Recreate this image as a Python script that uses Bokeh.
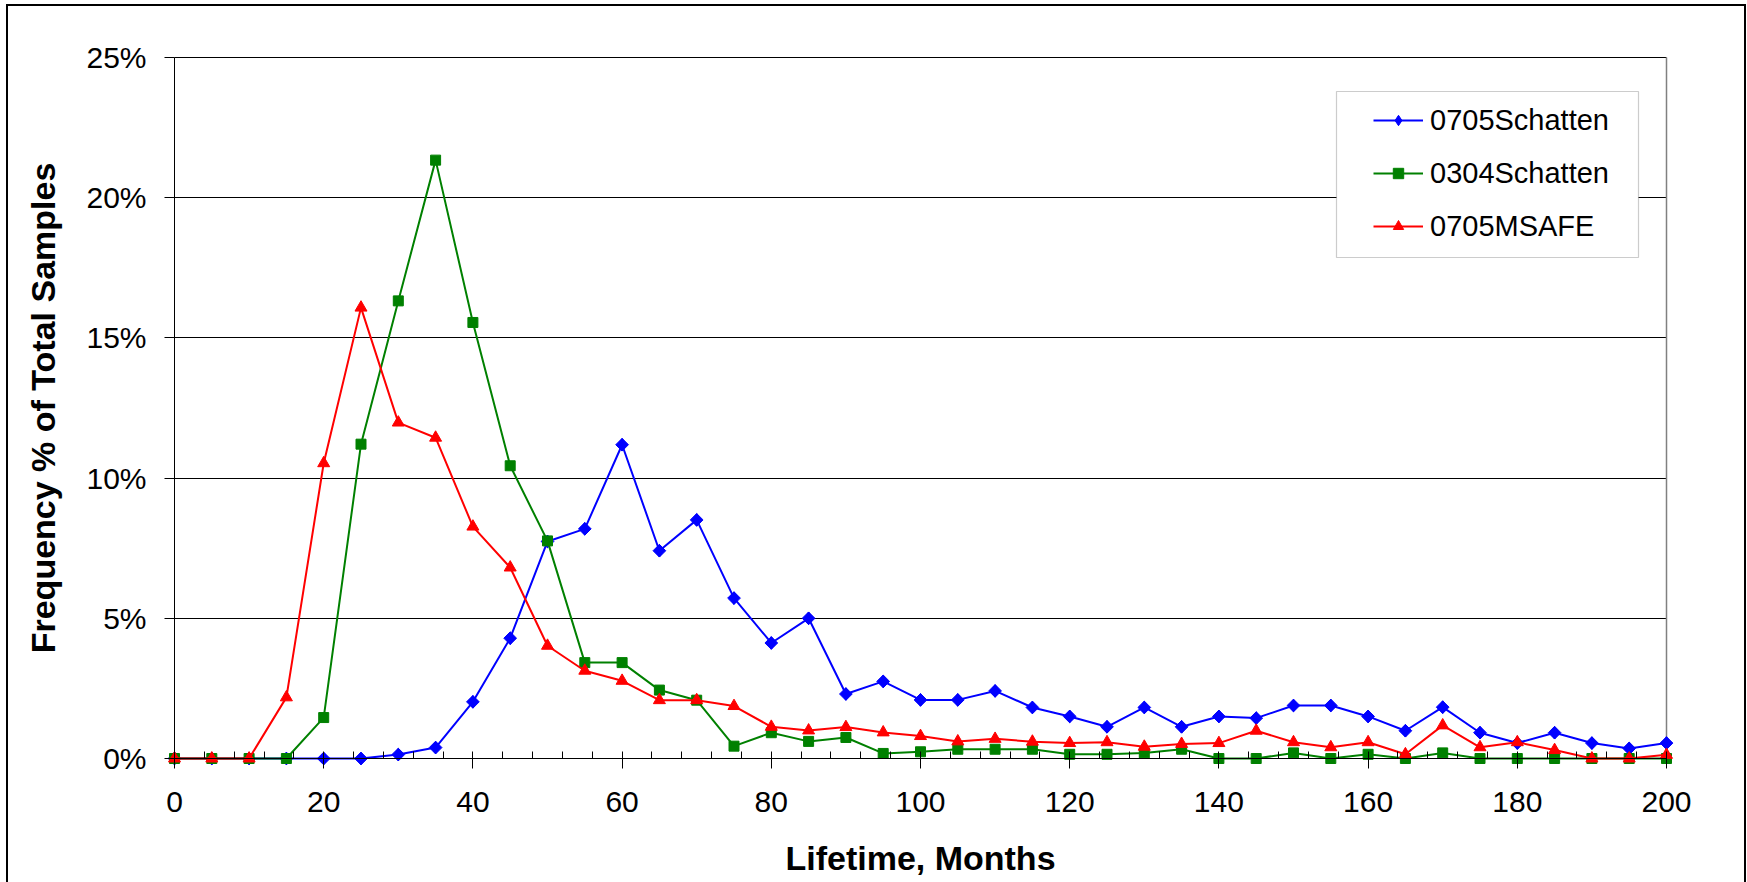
from bokeh.plotting import figure
from bokeh.models import (Range1d, SingleIntervalTicker, PrintfTickFormatter,
                          Legend, LegendItem, BoxAnnotation, LinearAxis,
                          CustomJSTickFormatter)
from bokeh.embed import file_html
from bokeh.resources import INLINE

# ---------------- data ----------------
months = list(range(0, 201, 5))
schatten_0705 = [0, 0, 0, 0, 0, 0, 0.14, 0.39, 2.02, 4.29, 7.74, 8.19, 11.19, 7.41,
                 8.51, 5.72, 4.12, 5.0, 2.30, 2.75, 2.09, 2.09, 2.41, 1.82, 1.50, 1.13,
                 1.82, 1.13, 1.50, 1.44, 1.89, 1.89, 1.50, 0.99, 1.83, 0.92, 0.55, 0.92,
                 0.55, 0.36, 0.55]
schatten_0304 = [0, 0, 0, 0, 1.46, 11.21, 16.32, 21.34, 15.55, 10.44, 7.76, 3.42, 3.42,
                 2.44, 2.08, 0.44, 0.92, 0.61, 0.75, 0.18, 0.24, 0.33, 0.33, 0.33, 0.15,
                 0.15, 0.2, 0.33, 0, 0, 0.2, 0, 0.15, 0, 0.2, 0, 0, 0, 0, 0, 0]
msafe_0705 = [0, 0, 0, 2.18, 10.53, 16.08, 11.98, 11.44, 8.27, 6.81, 4.02, 3.13, 2.77,
              2.08, 2.08, 1.87, 1.13, 1.0, 1.12, 0.93, 0.8, 0.61, 0.70, 0.6, 0.55, 0.58,
              0.42, 0.52, 0.55, 0.99, 0.58, 0.4, 0.58, 0.15, 1.18, 0.4, 0.58, 0.3, 0, 0,
              0.13]
series_names = ["0705Schatten", "0304Schatten", "0705MSAFE"]
x_ticks_interval = 20
y_ticks_interval = 5
X_MIN, X_MAX = 0, 200
Y_MIN, Y_MAX = 0, 25

# ---------------- layout ----------------
X0_PX, X1_PX = 174, 1666      # canvas px of x=0 and x=200
Y1_PX, Y0_PX = 57, 758        # canvas px of y=25 and y=0
PAD = 12
ppx = (X1_PX - X0_PX) / (X_MAX - X_MIN)
ppy = (Y0_PX - Y1_PX) / (Y_MAX - Y_MIN)
frame_w = (X1_PX - X0_PX) + 2 * PAD
frame_h = (Y0_PX - Y1_PX) + 2 * PAD
left_b = X0_PX - PAD
top_b = Y1_PX - PAD
W, H = 1747, 882

FONT = "Liberation Sans"

p = figure(frame_width=frame_w, frame_height=frame_h,
           min_border_left=left_b, min_border_right=W - left_b - frame_w,
           min_border_top=top_b, min_border_bottom=H - top_b - frame_h,
           x_range=Range1d(X_MIN - PAD / ppx, X_MAX + PAD / ppx),
           y_range=Range1d(Y_MIN - PAD / ppy, Y_MAX + PAD / ppy),
           output_backend="svg", toolbar_location=None, tools="")
p.outline_line_color = None
p.background_fill_color = "white"
p.border_fill_color = "white"
p.border_fill_alpha = 0.0
# outer chart border (left, top, right edges) painted behind the transparent margin
p.styles = {
    "background": ("linear-gradient(#000,#000) 6px 4px / 2px 100% no-repeat, "
                   "linear-gradient(#000,#000) 6px 4px / 1740px 2px no-repeat, "
                   "linear-gradient(#000,#000) 1744px 4px / 2px 100% no-repeat, "
                   "#ffffff")
}

xt = SingleIntervalTicker(interval=x_ticks_interval, num_minor_ticks=5)
yt = SingleIntervalTicker(interval=y_ticks_interval, num_minor_ticks=0)

# label-only axes at the frame edge
p.xaxis.ticker = xt
p.yaxis.ticker = yt
p.yaxis.formatter = PrintfTickFormatter(format="%d%%")
for ax in (p.xaxis[0], p.yaxis[0]):
    ax.axis_line_color = None
    ax.major_tick_line_color = None
    ax.minor_tick_line_color = None
    ax.major_tick_in = 0
    ax.major_tick_out = 0
    ax.minor_tick_in = 0
    ax.minor_tick_out = 0
    ax.major_label_text_font = FONT
    ax.major_label_text_font_size = "30px"
    ax.major_label_text_color = "black"
    ax.axis_label_text_font = FONT
    ax.axis_label_text_font_style = "bold"
    ax.axis_label_text_font_size = "34px"
    ax.axis_label_text_color = "black"
p.xaxis.axis_label = "Lifetime, Months"
p.yaxis.axis_label = "Frequency % of Total Samples"
p.xaxis.major_label_standoff = 21
p.xaxis.axis_label_standoff = 24
p.yaxis.major_label_standoff = 16
p.yaxis.axis_label_standoff = 21

# line-and-tick axes pinned at x=0 / y=0
blank = CustomJSTickFormatter(code="return ''")
xline = LinearAxis(ticker=xt, formatter=blank, fixed_location=Y_MIN,
                   bounds=(X_MIN, X_MAX), axis_line_color="black",
                   major_tick_line_color="black", minor_tick_line_color="black",
                   major_tick_out=6, major_tick_in=10,
                   minor_tick_out=7, minor_tick_in=0,
                   major_label_standoff=0)
p.add_layout(xline, "above")
yline = LinearAxis(ticker=yt, formatter=blank, fixed_location=X_MIN,
                   bounds=(Y_MIN, Y_MAX), axis_line_color="black",
                   major_tick_line_color="black", minor_tick_line_color=None,
                   major_tick_out=0, major_tick_in=10,
                   minor_tick_out=0, minor_tick_in=0,
                   major_label_standoff=0)
p.add_layout(yline, "right")

# grid
p.xgrid.visible = False
p.ygrid.ticker = yt
p.ygrid.bounds = (Y_MIN, Y_MAX)
p.ygrid.cross_bounds = (X_MIN, X_MAX)
p.ygrid.grid_line_color = "black"
p.ygrid.grid_line_width = 1

# right border of plot area
p.segment(x0=[X_MAX], y0=[Y_MIN], x1=[X_MAX], y1=[Y_MAX], line_color="#808080", line_width=1.5)

# series
LW = 2
r1l = p.line(months, schatten_0705, line_color="#0000FF", line_width=LW)
# diamond key (drawn underneath and fully covered by the rotated squares) for the legend
r1k = p.scatter(months, schatten_0705, marker="diamond", size=12.5,
                fill_color="#0000FF", line_color="#0000FF")
r1s = p.scatter(months, schatten_0705, marker="square", angle=0.785398, size=9,
                fill_color="#0000FF", line_color="#0000FF")
r2l = p.line(months, schatten_0304, line_color="#008000", line_width=LW)
r2s = p.scatter(months, schatten_0304, marker="square", size=10,
                fill_color="#008000", line_color="#008000")
r3l = p.line(months, msafe_0705, line_color="#FF0000", line_width=LW)
r3s = p.scatter(months, msafe_0705, marker="triangle", size=12,
                fill_color="#FF0000", line_color="#FF0000")

# legend box
legend_box = BoxAnnotation(left=1336, right=1638, top=91, bottom=257,
                           left_units="canvas", right_units="canvas",
                           top_units="canvas", bottom_units="canvas",
                           fill_color="white", fill_alpha=1.0,
                           line_color="#555555", line_width=1.2)
p.add_layout(legend_box)

legend = Legend(items=[LegendItem(label=series_names[0], renderers=[r1l, r1k]),
                       LegendItem(label=series_names[1], renderers=[r2l, r2s]),
                       LegendItem(label=series_names[2], renderers=[r3l, r3s])],
                location=(1373 - left_b, (top_b + frame_h) - 243),
                padding=0, margin=0, spacing=19,
                glyph_width=50, glyph_height=26, label_height=34,
                label_standoff=7,
                label_text_font=FONT, label_text_font_size="29px",
                label_text_color="black",
                background_fill_alpha=0, border_line_color=None)
p.add_layout(legend)

open("out.html", "w").write(file_html(p, INLINE))
